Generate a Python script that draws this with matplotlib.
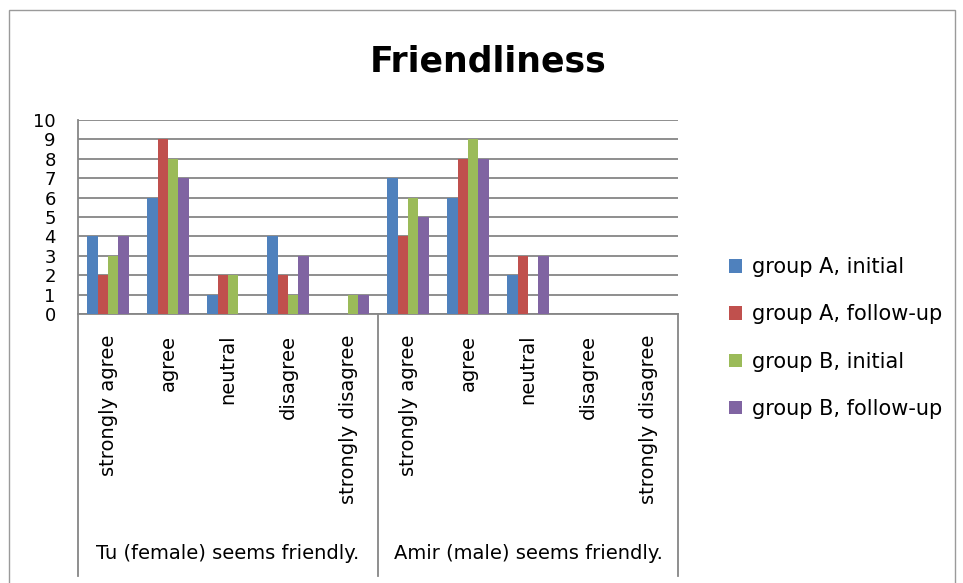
import matplotlib
matplotlib.use("Agg")
import matplotlib.pyplot as plt
import numpy as np

plt.rcParams['font.family'] = ['DejaVu Sans']

responses = ['strongly agree', 'agree', 'neutral', 'disagree', 'strongly disagree']
statements = ['Tu (female) seems friendly.', 'Amir (male) seems friendly.']
series_names = ['group A, initial', 'group A, follow-up', 'group B, initial', 'group B, follow-up']
colors = ['#4F81BD', '#C0504D', '#9BBB59', '#8064A2']

# values per series: Tu x5 then Amir x5
a_initial = [4, 6, 1, 4, 0, 7, 6, 2, 0, 0]
a_followup = [2, 9, 2, 2, 0, 4, 8, 3, 0, 0]
b_initial = [3, 8, 2, 1, 1, 6, 9, 0, 0, 0]
b_followup = [4, 7, 0, 3, 1, 5, 8, 3, 0, 0]
series = [a_initial, a_followup, b_initial, b_followup]

grid_col = '#868686'

fig = plt.figure(figsize=(9.63, 5.83), dpi=100)
ax = fig.add_axes([78 / 963, 269 / 583, 600 / 963, 194 / 583])

x = np.arange(len(responses) * len(statements))
w = 0.172
for i, (vals, name, c) in enumerate(zip(series, series_names, colors)):
    ax.bar(x + (i - 1.5) * w, vals, width=w, color=c, label=name, zorder=3)

ax.set_xlim(-0.5, len(x) - 0.5)
ax.set_ylim(0, 10)
ax.set_yticks(range(0, 11))
ax.tick_params(axis='y', length=0, pad=16, labelsize=13)
ax.yaxis.grid(True, color=grid_col, linewidth=1.3, zorder=0)
ax.set_axisbelow(True)
for s in ['top', 'right']:
    ax.spines[s].set_visible(False)
ax.spines['left'].set_color(grid_col)
ax.spines['bottom'].set_color(grid_col)
ax.spines['left'].set_linewidth(1.3)
ax.spines['bottom'].set_linewidth(1.3)

ax.set_xticks(x)
ax.set_xticklabels(responses * len(statements), rotation=90, fontsize=14, va='top')
ax.tick_params(axis='x', length=0, pad=15)

# category box under the axis
tr = ax.get_xaxis_transform()
n = len(responses)
for xv in [-0.5, n - 0.5, 2 * n - 0.5]:
    ax.plot([xv, xv], [0, -1.35], color=grid_col, linewidth=1.3, transform=tr, clip_on=False)
for k, st in enumerate(statements):
    ax.text(k * n + (n - 1) / 2, -1.232, st, transform=tr, ha='center', va='center', fontsize=14)

fig.text(488 / 963, 1 - 61 / 583, 'Friendliness', ha='center', va='center', fontsize=25, fontweight='bold')

ax.legend(loc='center left', bbox_to_anchor=(719 / 963, 1 - 338 / 583), bbox_transform=fig.transFigure,
          frameon=False, fontsize=15, handlelength=0.6, handleheight=0.6, handletextpad=0.5,
          labelspacing=1.3, borderpad=0)

fig.patches.append(plt.Rectangle((9 / 963, -0.01), 946 / 963, 1 - 10 / 583 + 0.01,
                                 transform=fig.transFigure, fill=False, edgecolor='#9a9a9a', linewidth=1))

fig.savefig('out.png', dpi=100)
